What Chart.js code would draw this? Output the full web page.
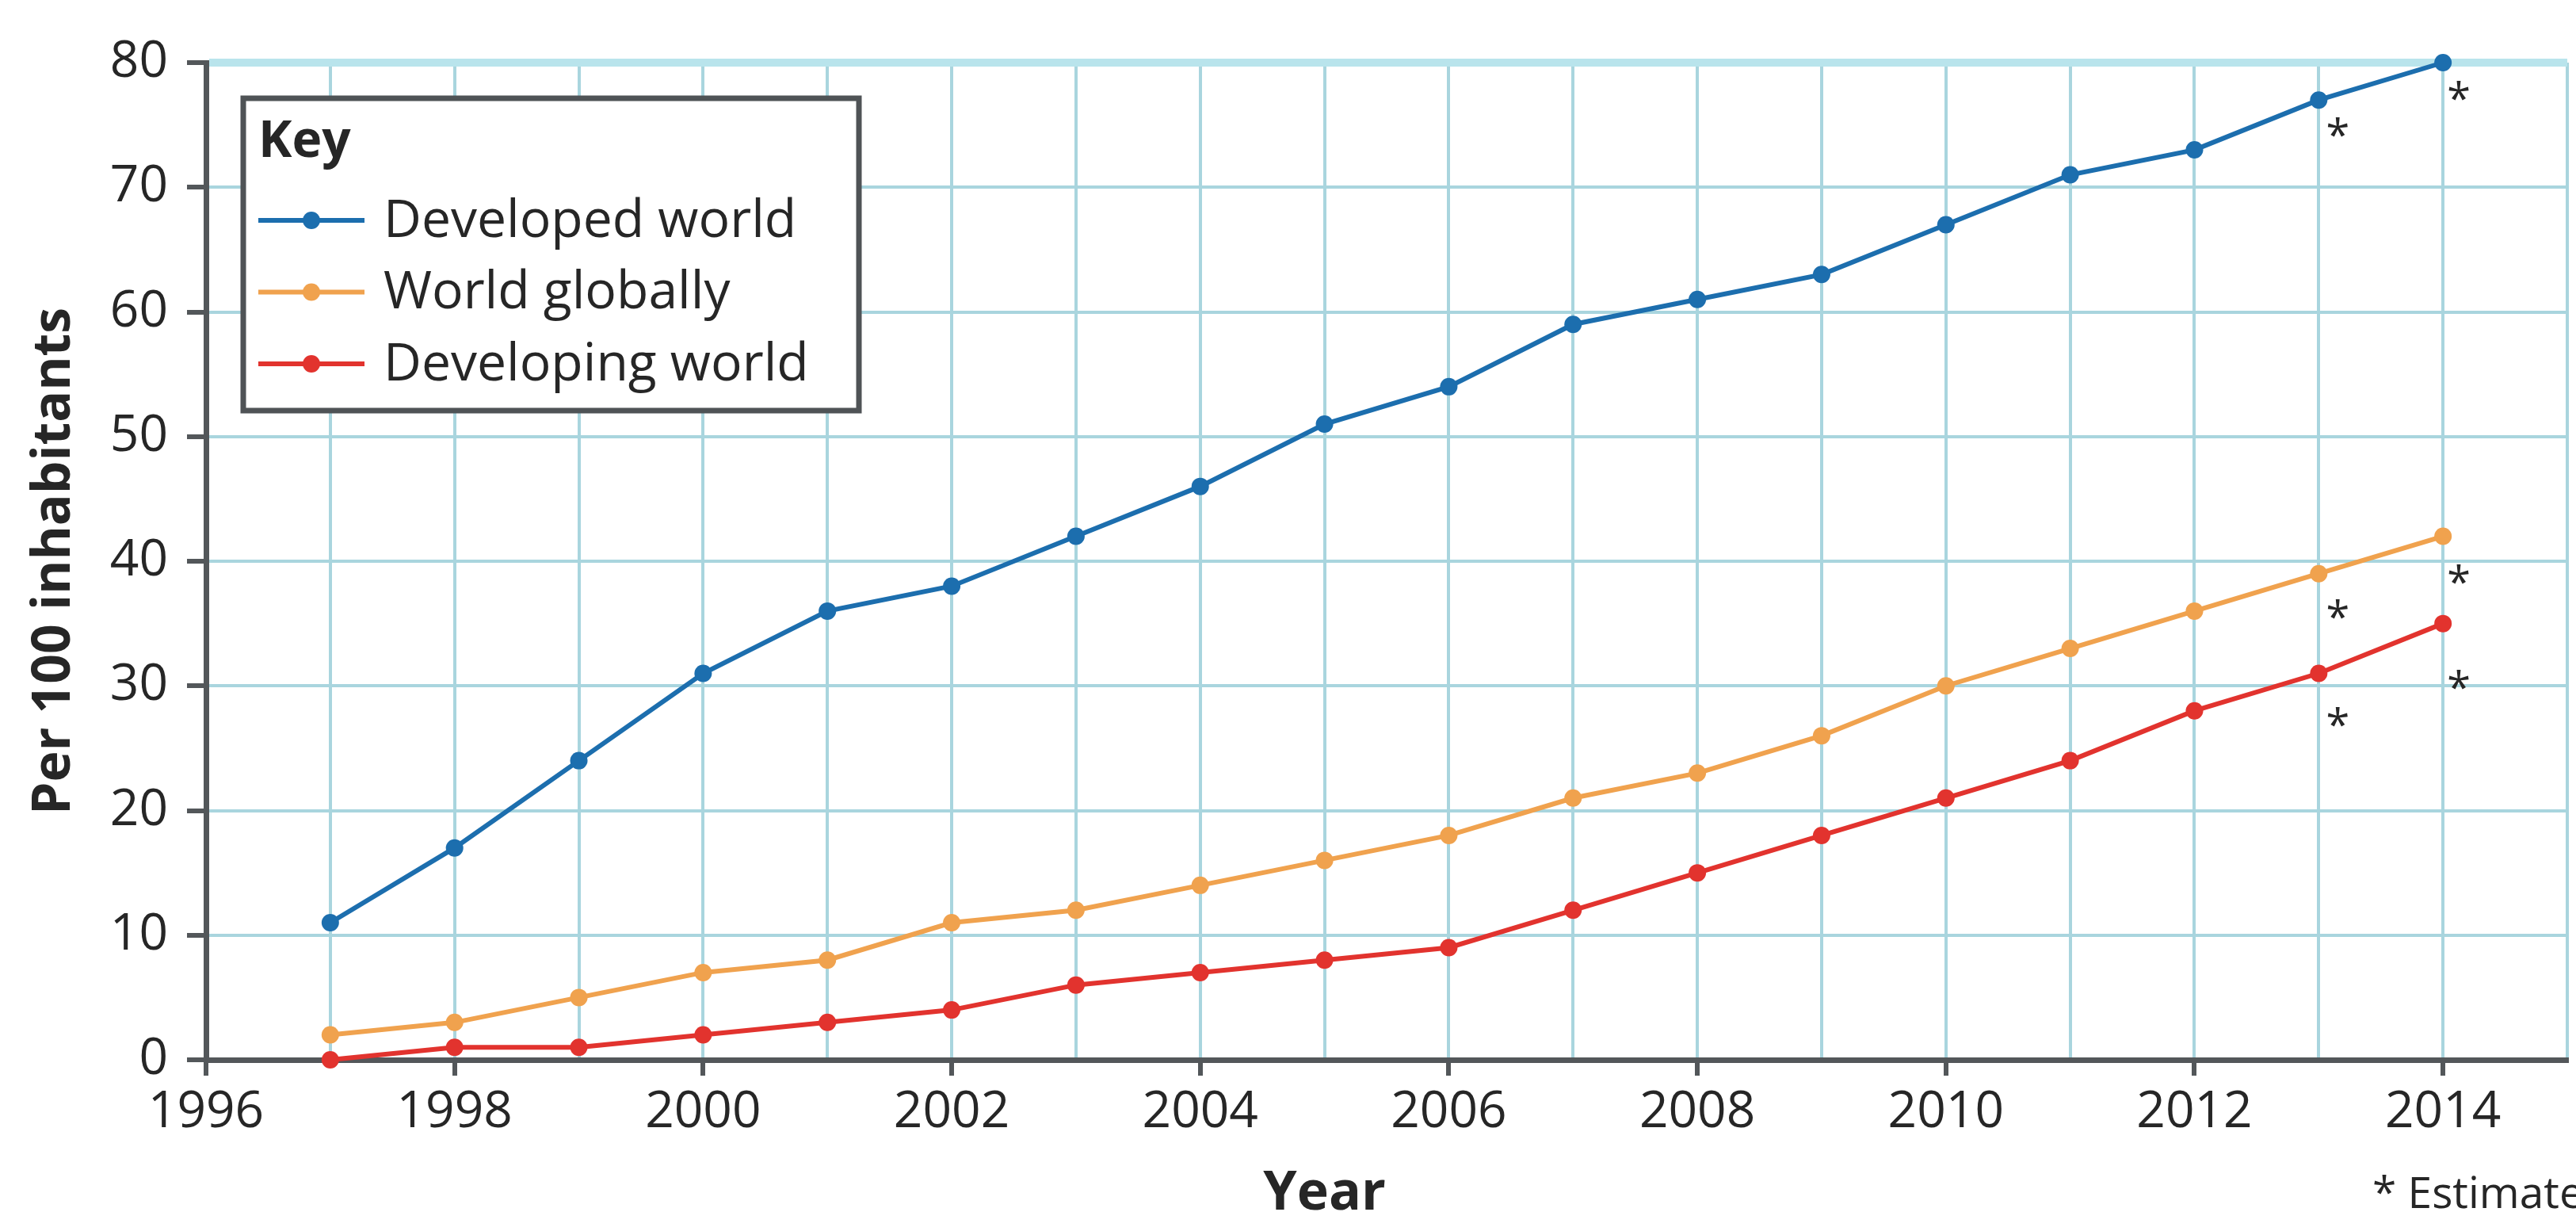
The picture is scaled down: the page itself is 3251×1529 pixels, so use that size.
<!DOCTYPE html>
<html>
<head>
<meta charset="utf-8">
<script src="https://cdn.jsdelivr.net/npm/chart.js@4.4.1/dist/chart.umd.min.js"></script>
<style>
  html, body { margin: 0; padding: 0; background: #fff; }
  #wrap { width: 3251px; height: 1529px; }
</style>
</head>
<body>
<div id="wrap"><canvas id="mobileChart" width="3251" height="1529"></canvas></div>
<script>
// values (per 100 inhabitants)
const years = [1997, 1998, 1999, 2000, 2001, 2002, 2003, 2004, 2005, 2006, 2007, 2008, 2009, 2010, 2011, 2012, 2013, 2014];
const developed = [11, 17, 24, 31, 36, 38, 42, 46, 51, 54, 59, 61, 63, 67, 71, 73, 77, 80];
const worldGlobal = [2, 3, 5, 7, 8, 11, 12, 14, 16, 18, 21, 23, 26, 30, 33, 36, 39, 42];
const developing = [0, 1, 1, 2, 3, 4, 6, 7, 8, 9, 12, 15, 18, 21, 24, 28, 31, 35];
const estimateYears = [2013, 2014];
const yTicks = [0, 10, 20, 30, 40, 50, 60, 70, 80];

const axisGrey = '#53575a';
const gridTeal = '#a9d5de';
const textCol = '#262626';

Chart.defaults.font.family = "'Open Sans', sans-serif";
Chart.defaults.color = textCol;

function toPoints(vals) {
    return years.map((yr, i) => ({ x: yr, y: vals[i] }));
}

function series(label, vals, col, starDy) {
    return {
        label: label,
        data: toPoints(vals),
        borderColor: col,
        backgroundColor: col,
        borderWidth: 6,
        pointRadius: 11,
        pointHoverRadius: 11,
        pointBorderWidth: 0,
        tension: 0,
        clip: false,
        starDy: starDy
    };
}

// draws the boxed key, the * estimate marks and the footnote
const extras = {
    id: 'extras',
    afterDatasetsDraw(chart) {
        const c = chart.ctx;
        const xs = chart.scales.x;
        const ys = chart.scales.y;

        // asterisks next to estimated points
        c.save();
        c.fillStyle = textCol;
        c.font = "54px 'Open Sans'";
        c.textAlign = 'center';
        c.textBaseline = 'alphabetic';
        chart.data.datasets.forEach(ds => {
            ds.data.forEach(p => {
                const k = estimateYears.indexOf(p.x);
                if (k < 0) return;
                const px = xs.getPixelForValue(p.x) + (k === 0 ? 24 : 20);
                const py = ys.getPixelForValue(p.y) + ds.starDy[k];
                c.fillText('*', px, py + 30);
            });
        });
        c.restore();

        // key box
        c.save();
        c.fillStyle = '#ffffff';
        c.fillRect(307, 124, 777, 394);
        c.strokeStyle = '#4f5356';
        c.lineWidth = 7;
        c.strokeRect(307, 124, 777, 394);
        c.fillStyle = textCol;
        c.textBaseline = 'middle';
        c.textAlign = 'left';
        c.font = "bold 64px 'Open Sans'";
        c.fillText('Key', 326, 180);
        c.font = "66px 'Open Sans'";
        chart.data.datasets.forEach((ds, i) => {
            const yy = 278 + i * 90.5;
            c.strokeStyle = ds.borderColor;
            c.lineWidth = 6;
            c.beginPath();
            c.moveTo(326, yy);
            c.lineTo(460, yy);
            c.stroke();
            c.fillStyle = ds.borderColor;
            c.beginPath();
            c.arc(393, yy, 11, 0, Math.PI * 2);
            c.fill();
            c.fillStyle = textCol;
            c.fillText(ds.label, 484, yy + 2);
        });
        c.restore();
    },
    afterDraw(chart) {
        const c = chart.ctx;
        const xs = chart.scales.x;
        c.save();
        c.fillStyle = textCol;
        c.textBaseline = 'alphabetic';
        c.textAlign = 'center';
        c.font = "bold 68px 'Open Sans'";
        c.fillText('Year', xs.getPixelForValue(2005), 1526);
        c.textAlign = 'left';
        c.font = "55px 'Open Sans'";
        c.fillText('* Estimate', 2994, 1524);
        c.restore();
    }
};

const ctx = document.getElementById('mobileChart').getContext('2d');
const mobileChart = new Chart(ctx, {
    type: 'line',
    data: {
        datasets: [
            series('Developed world', developed, '#1c6eae', [34, 35]),
            series('World globally', worldGlobal, '#f0a24e', [44, 47]),
            series('Developing world', developing, '#e2332e', [54, 70])
        ]
    },
    options: {
        responsive: false,
        animation: false,
        layout: { padding: { top: 79, right: 0, left: 0, bottom: 0 } },
        plugins: {
            legend: { display: false },
            tooltip: { enabled: false }
        },
        scales: {
            x: {
                type: 'linear',
                min: 1996,
                max: 2015,
                afterFit: s => { s.height = 192; },
                border: { color: axisGrey, width: 7 },
                grid: {
                    color: gridTeal,
                    lineWidth: 4,
                    tickLength: 20,
                    tickWidth: 6,
                    tickColor: c => (c.tick && c.tick.value % 2 === 0 && c.tick.value < 2015) ? axisGrey : 'rgba(0,0,0,0)'
                },
                ticks: {
                    stepSize: 1,
                    autoSkip: false,
                    maxRotation: 0,
                    padding: 8,
                    color: textCol,
                    font: { size: 64 },
                    callback: v => (v % 2 === 0 && v < 2015) ? String(v) : ''
                }
            },
            y: {
                min: 0,
                max: 80,
                afterFit: s => { s.width = 260; },
                afterBuildTicks: s => { s.ticks = yTicks.map(v => ({ value: v })); },
                border: { color: axisGrey, width: 7 },
                grid: {
                    color: c => (c.tick && c.tick.value === 80) ? '#b9e4ec' : gridTeal,
                    lineWidth: c => (c.tick && c.tick.value === 80) ? 10 : 4,
                    tickLength: 24,
                    tickWidth: 6,
                    tickColor: axisGrey
                },
                ticks: {
                    padding: 24,
                    color: textCol,
                    font: { size: 64 }
                },
                title: {
                    display: true,
                    text: 'Per 100 inhabitants',
                    color: textCol,
                    font: { size: 66, weight: 'bold' },
                    padding: { top: 30, bottom: 0 }
                }
            }
        }
    },
    plugins: [extras]
});
</script>
</body>
</html>
